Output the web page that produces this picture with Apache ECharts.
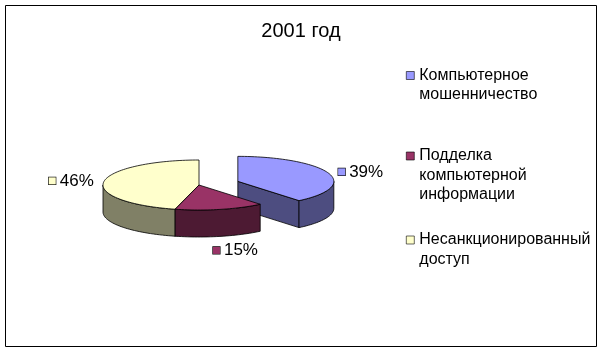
<!DOCTYPE html>
<html>
<head>
<meta charset="utf-8">
<script src="https://cdn.jsdelivr.net/npm/echarts@6/dist/echarts.min.js"></script>
<style>
html,body{margin:0;padding:0;background:#fff;}
#chart{width:602px;height:352px;}
</style>
</head>
<body>
<div id="chart"></div>
<script>
// ---- data ----
const titleText = '2001 год';
const categories = ['Компьютерное мошенничество', 'Подделка компьютерной информации', 'Несанкционированный доступ'];
const shares = [39, 15, 46];
const percentLabels = ['39%', '15%', '46%'];

// ---- styles ----
const topColors = ['#9999FF', '#993366', '#FFFFCC'];
const sideColors = ['#4D4D80', '#4D1A33', '#808066'];
const explodeBy = [0.43, 0, 0];
const PIE = { cx: 199, cy: 185, rx: 96, ry: 25, depth: 27 };
const FONT = '"Liberation Sans", Arial, sans-serif';
const LH = 19.5;
const legendCenters = [75.5, 156, 240];

const total = shares.reduce((a, b) => a + b, 0);

function geom(i) {
  let start = 0;
  for (let k = 0; k < i; k++) start += shares[k];
  const a0 = start / total * 2 * Math.PI;
  const a1 = (start + shares[i]) / total * 2 * Math.PI;
  const mid = (a0 + a1) / 2;
  const e = explodeBy[i];
  const cx = PIE.cx + e * PIE.rx * Math.sin(mid);
  const cy = PIE.cy - e * PIE.ry * Math.cos(mid);
  return { a0, a1, mid, cx, cy, key: cy - PIE.ry * Math.cos(mid) };
}
const order = shares.map((_, i) => i).sort((a, b) => geom(a).key - geom(b).key);

function renderSlice(params, api) {
  const i = params.seriesIndex;
  const g = geom(i);
  const rank = order.indexOf(i);
  const D = PIE.depth;
  const pt = (a, dz) => [g.cx + PIE.rx * Math.sin(a), g.cy - PIE.ry * Math.cos(a) + (dz || 0)];
  const arc = (s, t, dz) => {
    const n = Math.max(2, Math.ceil((t - s) / (Math.PI / 90)));
    const out = [];
    for (let j = 0; j <= n; j++) out.push(pt(s + (t - s) * j / n, dz));
    return out;
  };
  const stroke = { stroke: '#000', lineWidth: 0.8, lineJoin: 'round' };
  const children = [];
  const side = sideColors[i];
  if (Math.sin(g.a0) < -1e-6) {
    children.push({ type: 'polygon', z2: rank * 10 + 1,
      shape: { points: [[g.cx, g.cy], pt(g.a0), pt(g.a0, D), [g.cx, g.cy + D]] },
      style: Object.assign({ fill: side }, stroke) });
  }
  if (Math.sin(g.a1) > 1e-6) {
    children.push({ type: 'polygon', z2: rank * 10 + 1,
      shape: { points: [[g.cx, g.cy], pt(g.a1), pt(g.a1, D), [g.cx, g.cy + D]] },
      style: Object.assign({ fill: side }, stroke) });
  }
  const s = Math.max(g.a0, Math.PI / 2), t = Math.min(g.a1, 3 * Math.PI / 2);
  if (t > s) {
    const pts = arc(s, t, 0).concat(arc(s, t, D).reverse());
    children.push({ type: 'polygon', z2: rank * 10 + 2,
      shape: { points: pts }, style: Object.assign({ fill: side }, stroke) });
  }
  children.push({ type: 'polygon', z2: rank * 10 + 3,
    shape: { points: [[g.cx, g.cy]].concat(arc(g.a0, g.a1, 0)) },
    style: Object.assign({ fill: topColors[i] }, stroke) });

  // data label
  const rim = pt(g.mid);
  const sn = Math.sin(g.mid);
  let lx, ly, align;
  if (Math.abs(sn) >= 0.5) {
    ly = rim[1] - 1;
    if (sn > 0) { lx = rim[0] + 10; align = 'left'; }
    else { lx = rim[0] - 10; align = 'right'; }
  } else {
    lx = rim[0] - 7; align = 'left';
    ly = rim[1] + D + 14;
  }
  children.push({ type: 'text', z2: 200,
    style: {
      x: lx, y: ly, align: align, verticalAlign: 'middle',
      text: '{sq|}{t|' + api.value(1) + '}',
      rich: {
        sq: { width: 7, height: 7, backgroundColor: topColors[i], borderColor: '#000', borderWidth: 0.6 },
        t: { fontSize: 17, fontFamily: FONT, fill: '#000', padding: [0, 0, 0, 4] }
      }
    } });
  return { type: 'group', children: children };
}

const series = categories.map((name, i) => ({
  type: 'custom',
  name: name,
  coordinateSystem: 'none',
  renderItem: renderSlice,
  itemStyle: { color: topColors[i] },
  silent: true,
  animation: false,
  data: [[shares[i], percentLabels[i]]]
}));

const legends = categories.map((name, i) => {
  const n = name.split(' ').length;
  return {
    data: [name], orient: 'vertical', left: 406,
    top: legendCenters[i] - (2 * n - 1) * LH / 2,
    padding: 0, itemWidth: 8, itemHeight: 8, icon: 'rect', selectedMode: false,
    itemStyle: { borderColor: '#000', borderWidth: 0.6 },
    formatter: nm => {
      const parts = nm.split(' ');
      return '\n'.repeat(parts.length - 1) + parts.join('\n');
    },
    textStyle: { fontSize: 16, lineHeight: LH, color: '#000', fontFamily: FONT }
  };
});

const chart = echarts.init(document.getElementById('chart'), null, { renderer: 'canvas' });
chart.setOption({
  backgroundColor: '#fff',
  animation: false,
  title: { text: titleText, left: 'center', top: 21, padding: 0,
    textStyle: { fontSize: 20, fontWeight: 'normal', color: '#000', fontFamily: FONT } },
  legend: legends,
  graphic: [{ type: 'rect', shape: { x: 5.5, y: 5.5, width: 591, height: 341 },
    style: { fill: 'none', stroke: '#000', lineWidth: 1 }, silent: true }],
  series: series
});
</script>
</body>
</html>
